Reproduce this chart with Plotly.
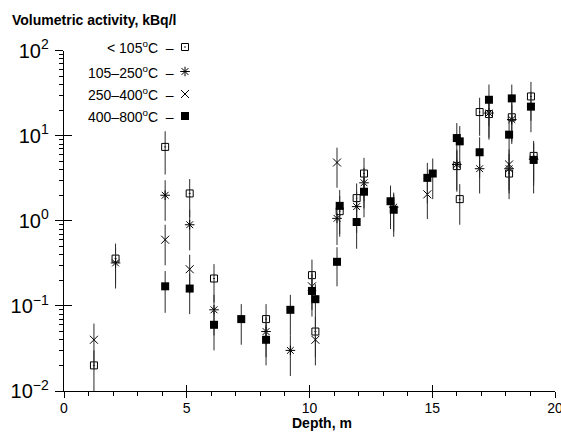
import plotly.graph_objects as go

# ---- data ----
d_lt105 = [1.22, 2.10, 4.12, 5.12, 6.11, 8.23, 10.10, 10.24, 11.23, 11.92, 12.22, 16.00, 16.12, 16.93, 17.31, 18.13, 18.24, 19.02, 19.13]
v_lt105 = [0.020, 0.36, 7.4, 2.1, 0.21, 0.070, 0.23, 0.050, 1.3, 1.85, 3.6, 4.4, 1.8, 19.0, 18.0, 3.6, 16.5, 29.0, 5.8]
e_lt105 = [0.010, 0.18, 3.9, 1.0, 0.10, 0.035, 0.12, 0.025, 0.65, 0.9, 1.9, 2.2, 0.9, 9.0, 9.0, 1.8, 8.0, 14.0, 2.9]

d_105_250 = [2.10, 4.12, 5.12, 6.11, 8.23, 9.22, 11.12, 11.92, 12.22, 13.43, 16.00, 16.93, 17.31, 18.13, 18.24, 19.13]
v_105_250 = [0.32, 2.0, 0.90, 0.090, 0.050, 0.030, 1.07, 1.47, 2.8, 1.45, 4.6, 4.1, 18.5, 4.1, 15.5, 5.3]
e_105_250 = [0.16, 1.0, 0.45, 0.045, 0.025, 0.015, 0.55, 0.75, 1.4, 0.7, 2.3, 2.0, 9.0, 2.0, 7.5, 2.7]

d_250_400 = [1.22, 4.12, 5.12, 10.10, 10.24, 11.12, 14.80, 18.13]
v_250_400 = [0.040, 0.60, 0.27, 0.17, 0.040, 4.85, 2.05, 4.6]
e_250_400 = [0.022, 0.30, 0.13, 0.08, 0.020, 2.4, 1.0, 2.3]

d_400_800 = [4.12, 5.12, 6.11, 7.22, 8.23, 9.22, 10.10, 10.24, 11.12, 11.23, 11.92, 12.22, 13.30, 13.43, 14.80, 15.02, 16.00, 16.12, 16.93, 17.31, 18.13, 18.24, 19.02, 19.13]
v_400_800 = [0.17, 0.16, 0.060, 0.070, 0.040, 0.090, 0.15, 0.12, 0.33, 1.5, 0.97, 2.2, 1.7, 1.35, 3.2, 3.6, 9.4, 8.6, 6.4, 26.5, 10.3, 27.5, 22.0, 5.2]
e_400_800 = [0.087, 0.08, 0.030, 0.035, 0.020, 0.045, 0.075, 0.06, 0.16, 0.8, 0.5, 1.1, 0.9, 0.7, 1.6, 1.8, 4.7, 4.4, 3.2, 13.5, 5.0, 12.5, 11.0, 3.1]

legend_labels = ["< 105<sup>o</sup>C  \u2013", "105\u2013250<sup>o</sup>C  \u2013",
                 "250\u2013400<sup>o</sup>C  \u2013", "400\u2013800<sup>o</sup>C  \u2013"]
y_labelalias = {"1": "10<sup>0</sup>", "10": "10<sup>1</sup>"}

FONT = "Liberation Sans"
W, H = 561, 436
ML, MR, MT, MB = 64, 6, 41, 45
PLOT_TOP = 50.7            # pixel row of the 10^2 tick
PH = H - MT - MB           # paper height in px
PW = W - ML - MR
y_dom_top = (H - MB - PLOT_TOP) / PH

def py2paper(py):
    return (H - MB - py) / PH

def px2paper(px):
    return (px - ML) / PW

series = [
    (d_lt105, v_lt105, e_lt105, dict(symbol="square-open-dot", size=7, color="black", line=dict(width=1, color="black"))),
    (d_105_250, v_105_250, e_105_250, dict(symbol="asterisk-open", size=8, color="black", line=dict(width=1, color="black"))),
    (d_250_400, v_250_400, e_250_400, dict(symbol="x-thin-open", size=8, color="black", line=dict(width=1, color="black"))),
    (d_400_800, v_400_800, e_400_800, dict(symbol="square", size=8, color="black", line=dict(width=0))),
]

fig = go.Figure()
for d, v, e, mk in series:
    fig.add_trace(go.Scatter(
        x=d, y=v, mode="markers", marker=mk, showlegend=False,
        error_y=dict(type="data", array=e, symmetric=True, thickness=1, width=0, color="#2a2a2a"),
        cliponaxis=False,
    ))

# legend key: text annotations + marker samples on a full-paper helper axis
leg_rows_px = [47, 71.5, 94, 116]
for (d, v, e, mk), ry, lab in zip(series, leg_rows_px, legend_labels):
    fig.add_trace(go.Scatter(x=[px2paper(185)], y=[py2paper(ry)], mode="markers", marker=mk,
                             showlegend=False, xaxis="x3", yaxis="y3", cliponaxis=False, hoverinfo="skip"))
    fig.add_annotation(x=px2paper(176), y=py2paper(ry), xref="paper", yref="paper", text=lab,
                       showarrow=False, xanchor="right", yanchor="middle",
                       font=dict(family=FONT, size=14, color="black"))

axis_common = dict(showgrid=False, zeroline=False, color="black", automargin=False)
fig.update_layout(
    width=W, height=H,
    margin=dict(l=ML, r=MR, t=MT, b=MB),
    paper_bgcolor="white", plot_bgcolor="rgba(0,0,0,0)",
    font=dict(family=FONT, color="black"),
    xaxis=dict(range=[0, 20], tickmode="linear", tick0=0, dtick=5, ticks="outside", ticklen=6, tickwidth=1,
               tickcolor="black", showline=True, linecolor="black", linewidth=1,
               tickfont=dict(size=14, family=FONT), ticklabelstandoff=-2, ticklabeloverflow="allow",
               minor=dict(tickmode="linear", tick0=0, dtick=1, ticks="outside", ticklen=4,
                          tickcolor="black", tickwidth=1),
               **axis_common),
    yaxis=dict(type="log", range=[-2, 2], domain=[0, y_dom_top], tickmode="linear", tick0=0, dtick=1,
               exponentformat="power", labelalias=y_labelalias,
               ticks="outside", ticklen=8, tickwidth=1, tickcolor="black",
               showline=True, linecolor="black", linewidth=1,
               tickfont=dict(size=16, family=FONT), ticklabelstandoff=3,
               minor=dict(dtick="D1", ticks="outside", ticklen=4, tickcolor="black", tickwidth=1),
               **axis_common),
    xaxis2=dict(overlaying="x", anchor="y", side="bottom", range=[0, 20], tickmode="linear", tick0=5, dtick=5,
                ticks="inside", ticklen=6, tickcolor="black", showticklabels=False, showline=False,
                showgrid=False, zeroline=False, automargin=False),
    yaxis2=dict(overlaying="y", anchor="x", side="left", type="log", range=[-2, 2], tickmode="linear",
                tick0=0, dtick=1, ticks="inside", ticklen=8, tickcolor="black", showticklabels=False,
                showline=False, showgrid=False, zeroline=False, automargin=False),
    xaxis3=dict(domain=[0, 1], anchor="y3", range=[0, 1], visible=False),
    yaxis3=dict(domain=[0, 1], anchor="x3", range=[0, 1], visible=False),
    title=dict(text="<b>Volumetric activity, kBq/l</b>", xref="container", yref="container",
               x=12 / W, xanchor="left", y=1 - 20 / H, yanchor="middle",
               font=dict(family=FONT, size=14, color="black")),
)
fig.add_annotation(text="<b>Depth, m</b>", xref="paper", yref="paper", x=px2paper(321.5), y=py2paper(423),
                   xanchor="center", yanchor="middle", showarrow=False,
                   font=dict(family=FONT, size=14, color="black"))
# dummy trace so overlay tick axes render
fig.add_trace(go.Scatter(x=[None], y=[None], xaxis="x2", yaxis="y2", showlegend=False))
fig.write_html("out.html", config={"displayModeBar": False},
               post_script="document.body.style.margin='0px';")
